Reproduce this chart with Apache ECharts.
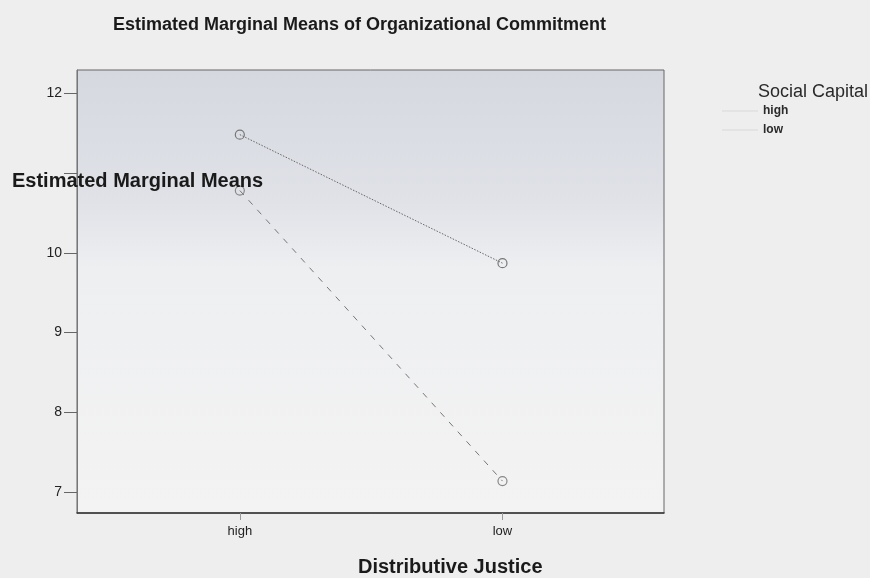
<!DOCTYPE html>
<html>
<head>
<meta charset="utf-8">
<script src="https://cdn.jsdelivr.net/npm/echarts@6/dist/echarts.min.js"></script>
<style>
html,body{margin:0;padding:0;background:#eeeeee;}
#c{width:870px;height:578px;}
</style>
</head>
<body>
<div id="c"></div>
<script>
var categories = ['high', 'low'];
var seriesNames = ['high', 'low'];
var highValues = [11.48, 9.87];
var lowValues = [10.78, 7.14];
var yLabelTicks = [7, 8, 9, 10, 12];
var yTicks = [7, 8, 9, 10, 11, 12];

var FONT = '"Liberation Sans", Arial, sans-serif';
function toPoints(vals){ return vals.map(function(v,i){ return [i, v]; }); }

var chart = echarts.init(document.getElementById('c'), null, {renderer:'canvas'});
chart.setOption({
  backgroundColor: '#eeeeee',
  animation: false,
  title: [
    {text:'Estimated Marginal Means of Organizational Commitment', left:108, top:11,
     textStyle:{fontFamily:FONT, fontSize:18, fontWeight:'bold', color:'#1a1a1a'}},
    {text:'Estimated Marginal Means', left:7, top:166,
     textStyle:{fontFamily:FONT, fontSize:20, fontWeight:'bold', color:'#1a1a1a'}},
    {text:'Distributive Justice', left:353, top:552,
     textStyle:{fontFamily:FONT, fontSize:20, fontWeight:'bold', color:'#1a1a1a'}},
    {text:'Social Capital', left:753, top:78,
     textStyle:{fontFamily:FONT, fontSize:18, fontWeight:'normal', color:'#2a2a2a'}}
  ],
  legend: {
    orient:'vertical', left:717, top:100, itemGap:7,
    icon:'rect', itemWidth:36, itemHeight:1,
    data: seriesNames.map(function(n){ return {name:n, itemStyle:{color:'#d8d8d8', borderWidth:0}}; }),
    textStyle:{fontFamily:FONT, fontSize:12, fontWeight:'bold', color:'#2a2a2a'}
  },
  grid: {
    left:77, top:70, width:587, height:443,
    show:true, borderColor:'#666', borderWidth:1,
    backgroundColor: new echarts.graphic.LinearGradient(0,0,0,1,[
      {offset:0, color:'#d5d8df'},
      {offset:0.3, color:'#e0e2e8'},
      {offset:0.45, color:'#eeeff1'},
      {offset:1, color:'#f3f3f3'}
    ])
  },
  xAxis: {
    type:'value', min:-0.62, max:1.615,
    axisLine:{show:true, onZero:false, lineStyle:{color:'#333', width:1.5}},
    axisTick:{show:true, customValues:[0,1], length:7, lineStyle:{color:'#999'}},
    axisLabel:{customValues:[0,1], margin:12, fontFamily:FONT, fontSize:13, color:'#222',
      formatter:function(v){ return categories[Math.round(v)]; }},
    splitLine:{show:false}
  },
  yAxis: {
    type:'value', min:6.74, max:12.29,
    axisLine:{show:true, onZero:false, lineStyle:{color:'#777', width:1}},
    axisTick:{show:true, customValues:yTicks, length:13, lineStyle:{color:'#666'}},
    axisLabel:{customValues:yLabelTicks, margin:15, fontFamily:FONT, fontSize:14, color:'#222'},
    splitLine:{show:false}
  },
  series: [
    {name:seriesNames[0], type:'line', data:toPoints(highValues),
     symbol:'circle', symbolSize:9,
     itemStyle:{color:'rgba(0,0,0,0)', borderColor:'#777', borderWidth:1.2},
     lineStyle:{color:'#666', width:1, type:[1.5,1.5]}},
    {name:seriesNames[1], type:'line', data:toPoints(lowValues),
     symbol:'circle', symbolSize:9,
     itemStyle:{color:'rgba(0,0,0,0)', borderColor:'#888', borderWidth:1.2},
     lineStyle:{color:'#777', width:1, type:[6,7]}}
  ]
});
</script>
</body>
</html>
